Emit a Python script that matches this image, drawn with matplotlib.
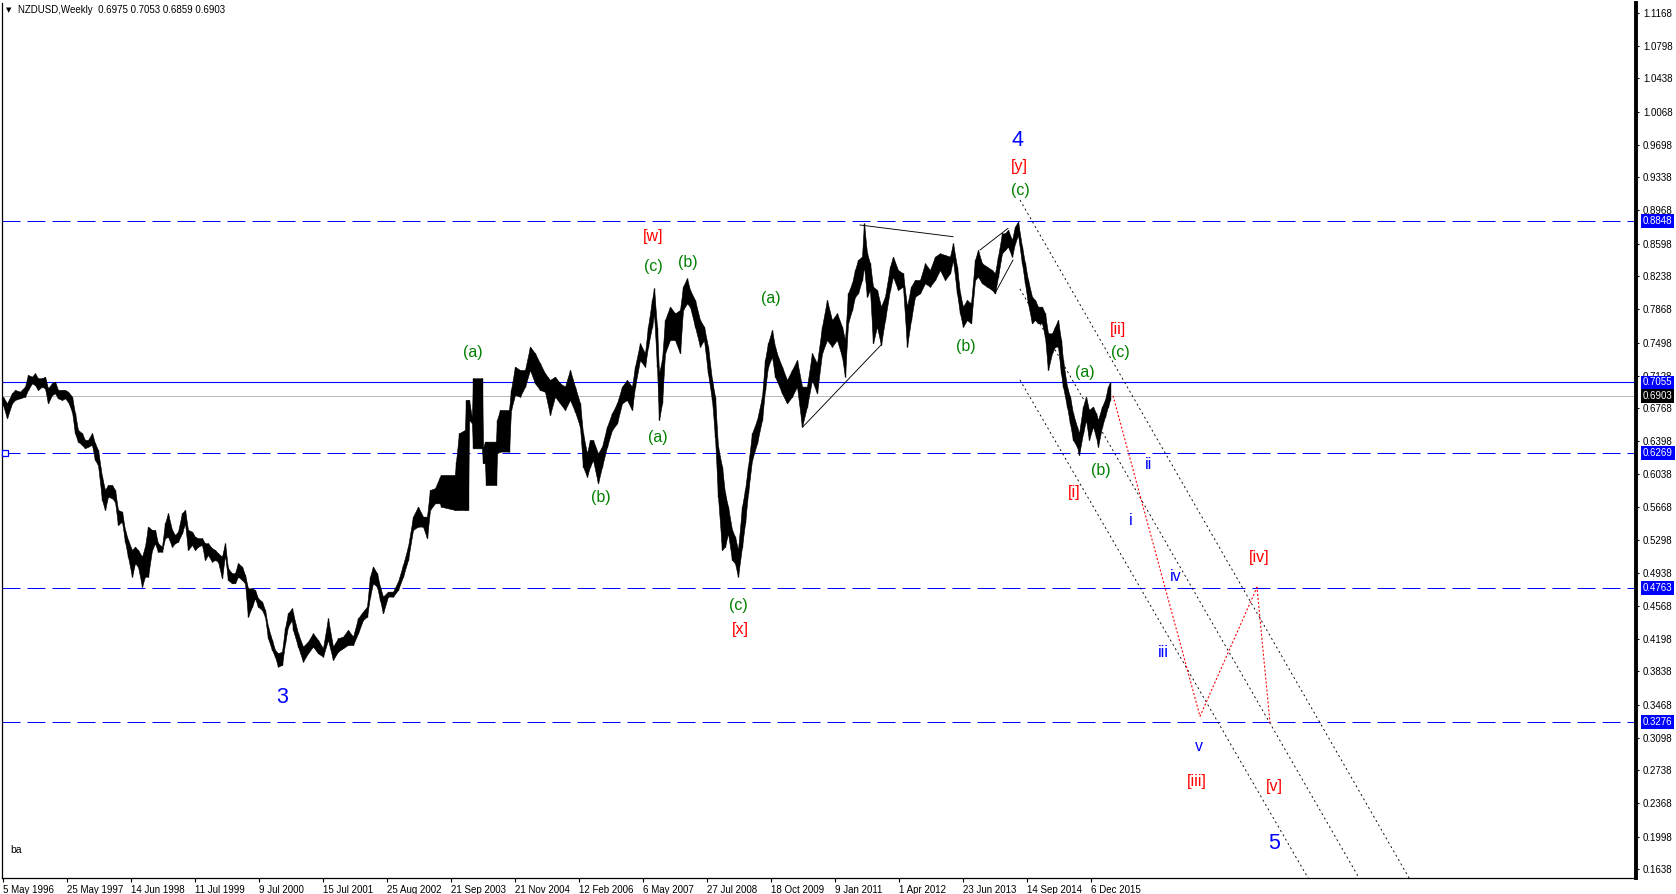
import matplotlib
matplotlib.use('Agg')
import matplotlib.pyplot as plt

plt.rcParams['font.family'] = ['Liberation Sans', 'DejaVu Sans']
plt.rcParams['lines.scale_dashes'] = False

# ---------------- data (x = weekly bar index, 64 bars between date labels) ----
bars = [0, 4, 9, 12, 17, 22, 25, 29, 32, 35, 39, 42, 45, 49, 52, 55, 59, 62, 65, 69,
        72, 75, 79, 82, 85, 89, 92, 95, 99, 102, 105, 109, 112, 115, 119, 122, 125, 129,
        132, 135, 139, 142, 145, 149, 152, 155, 159, 162, 165, 169, 172, 175, 179, 182,
        185, 189, 192, 195, 199, 202, 205, 209, 212, 215, 219, 222, 225, 229, 232, 235,
        239, 242, 245, 249, 252, 255, 259, 262, 265, 269, 272, 275, 279, 282, 285, 289,
        290, 295, 300, 305, 310, 315, 320, 325, 330, 335, 340, 345, 350, 355, 360, 364,
        367, 370, 374, 377, 380, 385, 390, 395, 400, 405, 410, 415, 420, 424, 427, 432,
        437, 438, 452, 453, 456, 462, 463, 465, 466, 469, 470, 479, 480, 482, 483, 493,
        494, 497, 506, 508, 512, 517, 522, 527, 532, 537, 542, 547, 552, 557, 562, 567,
        572, 577,
        580, 584, 587, 590, 595, 599, 604, 609, 614, 619, 624, 629, 632, 637, 642, 645,
        649, 651, 654, 656, 659, 662, 667, 672, 677, 680, 684, 687, 692, 697, 701, 705,
        709, 712, 715, 719, 722, 725, 729, 732, 735, 739, 742, 745, 749, 754, 759, 762,
        765, 769, 772, 775, 779, 784, 789, 794, 799, 804, 809, 814, 819, 824, 829, 834,
        839, 842, 845, 849, 852,
        855, 859, 861, 864, 867, 870, 874, 878, 882, 887, 890, 895, 900, 904, 908, 912,
        917, 922, 927, 932, 937, 942, 947, 950, 954, 957, 960, 964, 968, 972, 975, 979,
        984, 989, 992, 995, 999, 1002, 1005, 1009, 1012, 1015, 1019, 1022, 1025, 1029,
        1032, 1035, 1039, 1042, 1045, 1049, 1052, 1055, 1058, 1060, 1064, 1067, 1070,
        1074, 1076, 1080, 1083, 1086, 1090, 1093, 1095, 1099, 1102, 1105, 1107]

highs = [0.6896, 0.6821, 0.6933, 0.6970, 0.6951, 0.7007, 0.7137, 0.7118, 0.7155, 0.7100,
         0.7100, 0.7118, 0.6988, 0.7044, 0.7063, 0.6970, 0.6970, 0.6970, 0.6951, 0.6896,
         0.6710, 0.6525, 0.6488, 0.6413, 0.6413, 0.6488, 0.6376, 0.6302, 0.6005, 0.5857,
         0.5912, 0.5912, 0.5857, 0.5634, 0.5616, 0.5412, 0.5300, 0.5189, 0.5226, 0.5189,
         0.5115, 0.5226, 0.5449, 0.5412, 0.5412, 0.5263, 0.5226, 0.5486, 0.5597, 0.5412,
         0.5356, 0.5393, 0.5597, 0.5634, 0.5412, 0.5393, 0.5337, 0.5319, 0.5319, 0.5263,
         0.5263, 0.5208, 0.5189, 0.5152, 0.5115, 0.5263, 0.4985, 0.4929, 0.4929, 0.5041,
         0.5004, 0.4911, 0.4762, 0.4762, 0.4744, 0.4651, 0.4614, 0.4521, 0.4336, 0.4187,
         0.4076, 0.4039, 0.4057, 0.4317, 0.4484, 0.4540,
         0.4484, 0.4261, 0.4113, 0.4169, 0.4261, 0.4187, 0.4095, 0.4428, 0.4113, 0.4206,
         0.4224, 0.4299, 0.4224, 0.4428, 0.4503, 0.4558, 0.4892, 0.5004, 0.4929, 0.4781,
         0.4670, 0.4725, 0.4725, 0.4837, 0.5022, 0.5226, 0.5560, 0.5671, 0.5560, 0.5560,
         0.5857, 0.5875, 0.6005, 0.6024, 0.6024, 0.6173, 0.6488, 0.6525, 0.6859, 0.6859,
         0.6859, 0.6654, 0.7100, 0.7100, 0.6320, 0.6395, 0.6395, 0.6395, 0.6636, 0.6747,
         0.6747, 0.6970, 0.7229, 0.7192, 0.7192, 0.7452, 0.7378, 0.7266, 0.7155, 0.7081,
         0.7118, 0.7044, 0.7007, 0.7192, 0.7007, 0.6822,
         0.6487, 0.6264, 0.6413, 0.6413, 0.6264, 0.6338, 0.6561, 0.6710, 0.6821, 0.7007,
         0.7081, 0.7007, 0.7229, 0.7489, 0.7378, 0.7674, 0.7971, 0.8101, 0.7674, 0.7155,
         0.7303, 0.7748, 0.7897, 0.7823, 0.7860, 0.8120, 0.8212, 0.8083, 0.7971, 0.7748,
         0.7674, 0.7452, 0.7081, 0.6895, 0.6338, 0.6116, 0.5819, 0.5671, 0.5412, 0.5337,
         0.5189, 0.5671, 0.5856, 0.6116, 0.6487, 0.6636, 0.6895, 0.7303, 0.7489, 0.7637,
         0.7452, 0.7340, 0.7229, 0.7081, 0.7192, 0.7303, 0.7007, 0.7007, 0.7378, 0.7266,
         0.7674, 0.7971, 0.7748, 0.7823, 0.7674, 0.7526, 0.8045, 0.8157, 0.8305,
         0.8417, 0.8454, 0.8825, 0.8491, 0.8379, 0.8120, 0.8083, 0.7897, 0.8008, 0.8342,
         0.8454, 0.8305, 0.8268, 0.7897, 0.8120, 0.8194, 0.8194, 0.8379, 0.8305, 0.8454,
         0.8491, 0.8472, 0.8454, 0.8602, 0.8342, 0.8045, 0.7897, 0.7971, 0.7934, 0.8417,
         0.8528, 0.8379, 0.8342, 0.8305, 0.8268, 0.8454, 0.8713, 0.8713, 0.8751, 0.8639,
         0.8788, 0.8843, 0.8565, 0.8379, 0.8194, 0.8008, 0.7971, 0.7897, 0.7897, 0.7823,
         0.7600, 0.7600, 0.7674, 0.7749, 0.7526, 0.7303, 0.7007, 0.6895, 0.6710, 0.6561,
         0.6487, 0.6784, 0.6895, 0.6747, 0.6784, 0.6710, 0.6636, 0.6784, 0.6858, 0.7007,
         0.7053]

lows = [0.6803, 0.6654, 0.6821, 0.6859, 0.6877, 0.6896, 0.6970, 0.7044, 0.7025, 0.6970,
        0.7007, 0.6988, 0.6821, 0.6914, 0.6933, 0.6877, 0.6859, 0.6877, 0.6840, 0.6729,
        0.6488, 0.6395, 0.6358, 0.6321, 0.6339, 0.6358, 0.6191, 0.6135, 0.5746, 0.5634,
        0.5783, 0.5764, 0.5727, 0.5467, 0.5504, 0.5282, 0.5115, 0.4892, 0.5041, 0.5004,
        0.4781, 0.4892, 0.4892, 0.5189, 0.5263, 0.5170, 0.5170, 0.5319, 0.5337, 0.5226,
        0.5263, 0.5282, 0.5375, 0.5486, 0.5189, 0.5245, 0.5189, 0.5226, 0.5245, 0.5078,
        0.5133, 0.5059, 0.5078, 0.5059, 0.4874, 0.5133, 0.4855, 0.4818, 0.4818, 0.4892,
        0.4855, 0.4818, 0.4447, 0.4558, 0.4651, 0.4558, 0.4521, 0.4447, 0.4206, 0.4076,
        0.4002, 0.3891, 0.3909, 0.4150, 0.4336, 0.4410,
        0.4299, 0.4113, 0.3946, 0.4039, 0.4113, 0.4039, 0.4002, 0.4187, 0.3965, 0.4057,
        0.4095, 0.4132, 0.4132, 0.4261, 0.4410, 0.4447, 0.4670, 0.4818, 0.4781, 0.4633,
        0.4484, 0.4670, 0.4670, 0.4744, 0.4892, 0.5078, 0.5412, 0.5449, 0.5449, 0.5319,
        0.5634, 0.5708, 0.5708, 0.5671, 0.5634, 0.5634, 0.5634, 0.5634, 0.5634, 0.5634,
        0.6636, 0.6599, 0.6320, 0.6320, 0.6154, 0.6154, 0.5912, 0.5912, 0.6265, 0.6284,
        0.6284, 0.6747, 0.6914, 0.6896, 0.7007, 0.7192, 0.7044, 0.6970, 0.6951, 0.6692,
        0.6896, 0.6821, 0.6747, 0.6859, 0.6729, 0.6562,
        0.6116, 0.6005, 0.6116, 0.6190, 0.5930, 0.6116, 0.6338, 0.6524, 0.6598, 0.6821,
        0.6858, 0.6747, 0.7007, 0.7303, 0.7229, 0.7452, 0.7674, 0.7823, 0.7229, 0.6636,
        0.6821, 0.7378, 0.7526, 0.7526, 0.7378, 0.7860, 0.7934, 0.7897, 0.7674, 0.7452,
        0.7526, 0.7155, 0.6858, 0.6450, 0.5782, 0.5189, 0.5226, 0.5374, 0.5078, 0.5041,
        0.4892, 0.5226, 0.5485, 0.5819, 0.6190, 0.6376, 0.6636, 0.6969, 0.7229, 0.7340,
        0.7118, 0.7044, 0.6932, 0.6821, 0.6895, 0.7007, 0.6561, 0.6784, 0.7081, 0.6932,
        0.7378, 0.7526, 0.7452, 0.7526, 0.7340, 0.7118, 0.7711, 0.7860, 0.8008,
        0.8045, 0.8194, 0.8342, 0.8008, 0.8083, 0.7489, 0.7674, 0.7470, 0.7749, 0.8083,
        0.8231, 0.8083, 0.8120, 0.7452, 0.7749, 0.8008, 0.8045, 0.8157, 0.8120, 0.8194,
        0.8305, 0.8194, 0.8268, 0.8417, 0.8045, 0.7823, 0.7674, 0.7749, 0.7711, 0.8194,
        0.8231, 0.8157, 0.8120, 0.8083, 0.8045, 0.8231, 0.8491, 0.8528, 0.8565, 0.8454,
        0.8602, 0.8695, 0.8379, 0.8157, 0.7934, 0.7711, 0.7749, 0.7711, 0.7711, 0.7563,
        0.7192, 0.7378, 0.7452, 0.7452, 0.7155, 0.7007, 0.6784, 0.6599, 0.6413, 0.6339,
        0.6246, 0.6487, 0.6636, 0.6413, 0.6561, 0.6450, 0.6339, 0.6561, 0.6673, 0.6784,
        0.6859]

date_labels = ['5 May 1996', '25 May 1997', '14 Jun 1998', '11 Jul 1999', '9 Jul 2000',
               '15 Jul 2001', '25 Aug 2002', '21 Sep 2003', '21 Nov 2004', '12 Feb 2006',
               '6 May 2007', '27 Jul 2008', '18 Oct 2009', '9 Jan 2011', '1 Apr 2012',
               '23 Jun 2013', '14 Sep 2014', '6 Dec 2015']
bars_per_label = 64

price_ticks = [1.1168, 1.0798, 1.0438, 1.0068, 0.9698, 0.9338, 0.8968, 0.8598, 0.8238,
               0.7868, 0.7498, 0.7128, 0.6768, 0.6398, 0.6038, 0.5668, 0.5298, 0.4938,
               0.4568, 0.4198, 0.3838, 0.3468, 0.3098, 0.2738, 0.2368, 0.1998, 0.1638]

dashed_levels = [0.8848, 0.6269, 0.4763, 0.3276]
solid_level = 0.7055
current_price = 0.6903

# wave labels: text, bar, price, colour group
wave_labels = [
    ('4', 1014, 0.9752, 'big'), ('[y]', 1016, 0.9462, 'red'), ('(c)', 1017, 0.9195, 'green'),
    ('[w]', 650, 0.8676, 'red'), ('(c)', 650, 0.8342, 'green'), ('(b)', 685, 0.8391, 'green'),
    ('(a)', 768, 0.7990, 'green'), ('(a)', 470, 0.7389, 'green'), ('(b)', 963, 0.7451, 'green'),
    ('[ii]', 1115, 0.7647, 'red'), ('(c)', 1117, 0.7385, 'green'), ('(a)', 1082, 0.7166, 'green'),
    ('(a)', 655, 0.6443, 'green'), ('(b)', 1098, 0.6072, 'green'), ('ii', 1145, 0.6137, 'blue'),
    ('[i]', 1071, 0.5830, 'red'), ('(b)', 598, 0.5771, 'green'), ('i', 1128, 0.5517, 'blue'),
    ('[iv]', 1256, 0.5106, 'red'), ('iv', 1173, 0.4898, 'blue'), ('(c)', 735, 0.4576, 'green'),
    ('[x]', 737, 0.4302, 'red'), ('iii', 1160, 0.4047, 'blue'), ('3', 279, 0.3552, 'big'),
    ('v', 1196, 0.3006, 'blue'), ('[iii]', 1194, 0.2609, 'red'), ('[v]', 1271, 0.2555, 'red'),
    ('5', 1271, 0.1916, 'big'),
]

# channel (dotted black) lines: (bar0, price0, bar1, price1)
channel_lines = [(1017, 0.9084, 1408, 0.1500),
                 (1017, 0.8094, 1358, 0.1500),
                 (1017, 0.7081, 1307, 0.1500)]
# projected path (red dotted)
proj_bars = [1110, 1197, 1254, 1267]
proj_prices = [0.6905, 0.3337, 0.4774, 0.3263]
# thin black trend lines
trend_lines = [(800, 0.6561, 878, 0.7470),
               (857, 0.8806, 950, 0.8676),
               (977, 0.8528, 1005, 0.8769),
               (992, 0.8046, 1010, 0.8416)]

# ---------------- drawing ----------------
W, H = 1676, 894
fig = plt.figure(figsize=(W / 100, H / 100), dpi=100)
fig.patch.set_facecolor('white')
ax = fig.add_axes([2 / W, 16 / H, 1634 / W, 875 / H])
ax.set_xlim(-1, 1633)
ax.set_ylim(0.15375, 1.12771)

BLUE = '#0000ff'
RED = '#ff0000'
GREEN = '#008000'
px = 0.72  # points per pixel

for lv in dashed_levels:
    ax.axhline(lv, color=BLUE, lw=1 * px, linestyle=(0, (18 * px, 7 * px)), zorder=2)
ax.axhline(solid_level, color=BLUE, lw=1.1 * px, zorder=2)
ax.axhline(current_price, color='#b8b0b0', lw=0.9 * px, zorder=1.5)
ax.plot([2], [dashed_levels[1]], marker='s', ms=4.5, mfc='white', mec=BLUE, mew=0.9,
        clip_on=False, zorder=4)

ax.fill_between(bars, lows, highs, color='black', lw=0.4, edgecolor='black', zorder=3)
ax.vlines(bars, lows, highs, color='black', lw=1.0, zorder=3)

for b0, p0, b1, p1 in channel_lines:
    ax.plot([b0, b1], [p0, p1], color='black', lw=0.9 * px,
            linestyle=(0, (2 * px, 3 * px)), zorder=2)
ax.plot(proj_bars, proj_prices, color=RED, lw=1.1 * px, linestyle=(0, (2 * px, 2 * px)), zorder=2)
for b0, p0, b1, p1 in trend_lines:
    ax.plot([b0, b1], [p0, p1], color='black', lw=0.9 * px, zorder=3)

styles = {'green': (GREEN, 11.5), 'red': (RED, 11.5), 'blue': (BLUE, 11.5), 'big': (BLUE, 15.5)}
for txt, b, p, grp in wave_labels:
    c, s = styles[grp]
    ax.text(b, p, txt, color=c, fontsize=s, ha='center', va='center', zorder=5)

ax.text(7, 0.1849, 'ba', fontsize=7.5, ha='left', va='center', color='black')

# axes styling
ax.spines['top'].set_visible(False)
ax.spines['left'].set_linewidth(0.9)
ax.spines['bottom'].set_linewidth(0.9)
ax.spines['right'].set_linewidth(2.8)

ax.set_xticks([i * bars_per_label for i in range(len(date_labels))])
ax.set_xticklabels(date_labels, ha='left', fontsize=7)
ax.tick_params(axis='x', direction='out', length=3, width=0.8, pad=2)
ax.yaxis.tick_right()
ax.set_yticks(price_ticks)
ax.set_yticklabels([f'{v:.4f}' for v in price_ticks], fontsize=7)
ax.tick_params(axis='y', direction='out', length=2.5, width=0.8, pad=2.5)

ytr = ax.get_yaxis_transform()
for lv in dashed_levels + [solid_level]:
    ax.annotate(f'{lv:.4f}', xy=(1, lv), xycoords=ytr, xytext=(5, 0), textcoords='offset points',
                ha='left', va='center', fontsize=7, color='white', annotation_clip=False,
                bbox=dict(boxstyle='square,pad=0.18', fc=BLUE, ec='none'), zorder=6)
ax.annotate(f'{current_price:.4f}', xy=(1, current_price), xycoords=ytr, xytext=(5, 0),
            textcoords='offset points', ha='left', va='center', fontsize=7, color='white',
            annotation_clip=False, bbox=dict(boxstyle='square,pad=0.18', fc='black', ec='none'),
            zorder=6)

fig.text(6 / W, 1 - 10 / H, '\u25bc', fontsize=5, family='DejaVu Sans', va='center', ha='left')
fig.text(18 / W, 1 - 10 / H, 'NZDUSD,Weekly  0.6975 0.7053 0.6859 0.6903', fontsize=7,
         va='center', ha='left', color='black')

fig.savefig('out.png', dpi=100, facecolor='white')
